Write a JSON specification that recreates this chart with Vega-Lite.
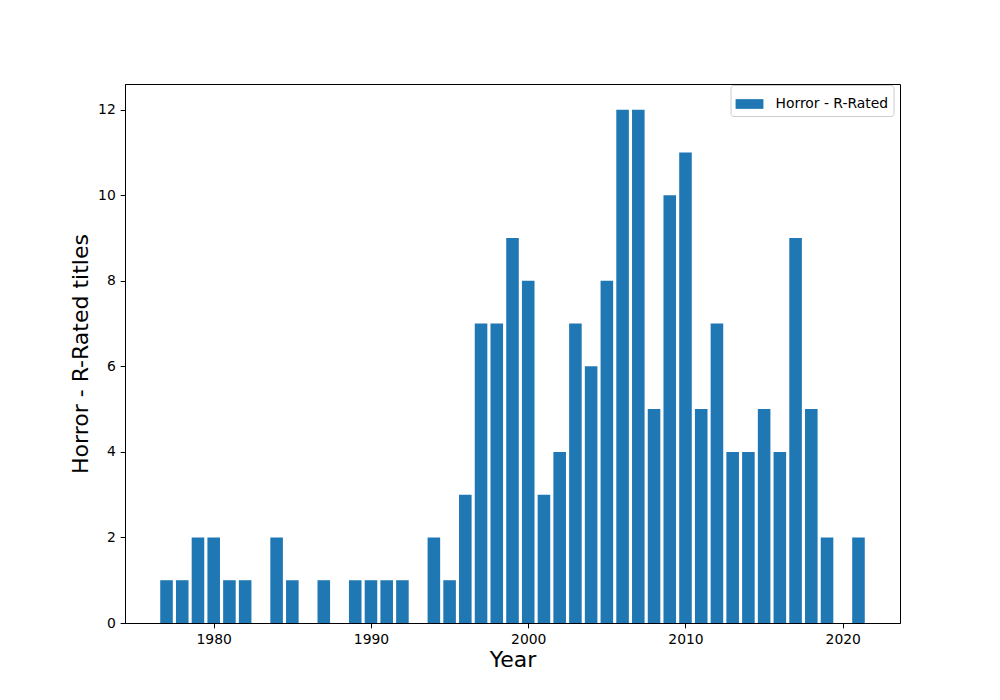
{
  "$schema": "https://vega.github.io/schema/vega-lite/v6.json",
  "autosize": {"type": "none"},
  "padding": {"left": 125, "top": 84, "right": 100, "bottom": 77},
  "width": 775,
  "height": 539,
  "background": "white",
  "config": {
    "font": "DejaVu Sans",
    "view": {"stroke": "black", "strokeWidth": 1},
    "axis": {
      "domainColor": "black",
      "tickColor": "black",
      "labelColor": "black",
      "titleColor": "black",
      "grid": false,
      "labelFont": "DejaVu Sans",
      "titleFont": "DejaVu Sans",
      "labelFontSize": 13.9,
      "titleFontSize": 22,
      "titleFontWeight": "normal",
      "tickSize": 4.86,
      "labelPadding": 4.86
    }
  },
  "data": {
    "values": [
      {"year": 1977, "count": 1, "series": "Horror - R-Rated"},
      {"year": 1978, "count": 1, "series": "Horror - R-Rated"},
      {"year": 1979, "count": 2, "series": "Horror - R-Rated"},
      {"year": 1980, "count": 2, "series": "Horror - R-Rated"},
      {"year": 1981, "count": 1, "series": "Horror - R-Rated"},
      {"year": 1982, "count": 1, "series": "Horror - R-Rated"},
      {"year": 1984, "count": 2, "series": "Horror - R-Rated"},
      {"year": 1985, "count": 1, "series": "Horror - R-Rated"},
      {"year": 1987, "count": 1, "series": "Horror - R-Rated"},
      {"year": 1989, "count": 1, "series": "Horror - R-Rated"},
      {"year": 1990, "count": 1, "series": "Horror - R-Rated"},
      {"year": 1991, "count": 1, "series": "Horror - R-Rated"},
      {"year": 1992, "count": 1, "series": "Horror - R-Rated"},
      {"year": 1994, "count": 2, "series": "Horror - R-Rated"},
      {"year": 1995, "count": 1, "series": "Horror - R-Rated"},
      {"year": 1996, "count": 3, "series": "Horror - R-Rated"},
      {"year": 1997, "count": 7, "series": "Horror - R-Rated"},
      {"year": 1998, "count": 7, "series": "Horror - R-Rated"},
      {"year": 1999, "count": 9, "series": "Horror - R-Rated"},
      {"year": 2000, "count": 8, "series": "Horror - R-Rated"},
      {"year": 2001, "count": 3, "series": "Horror - R-Rated"},
      {"year": 2002, "count": 4, "series": "Horror - R-Rated"},
      {"year": 2003, "count": 7, "series": "Horror - R-Rated"},
      {"year": 2004, "count": 6, "series": "Horror - R-Rated"},
      {"year": 2005, "count": 8, "series": "Horror - R-Rated"},
      {"year": 2006, "count": 12, "series": "Horror - R-Rated"},
      {"year": 2007, "count": 12, "series": "Horror - R-Rated"},
      {"year": 2008, "count": 5, "series": "Horror - R-Rated"},
      {"year": 2009, "count": 10, "series": "Horror - R-Rated"},
      {"year": 2010, "count": 11, "series": "Horror - R-Rated"},
      {"year": 2011, "count": 5, "series": "Horror - R-Rated"},
      {"year": 2012, "count": 7, "series": "Horror - R-Rated"},
      {"year": 2013, "count": 4, "series": "Horror - R-Rated"},
      {"year": 2014, "count": 4, "series": "Horror - R-Rated"},
      {"year": 2015, "count": 5, "series": "Horror - R-Rated"},
      {"year": 2016, "count": 4, "series": "Horror - R-Rated"},
      {"year": 2017, "count": 9, "series": "Horror - R-Rated"},
      {"year": 2018, "count": 5, "series": "Horror - R-Rated"},
      {"year": 2019, "count": 2, "series": "Horror - R-Rated"},
      {"year": 2021, "count": 2, "series": "Horror - R-Rated"}
    ]
  },
  "mark": {"type": "bar", "size": 12.57, "orient": "vertical"},
  "encoding": {
    "x": {
      "field": "year",
      "type": "quantitative",
      "scale": {"domain": [1974.36, 2023.64], "nice": false, "zero": false, "padding": 0},
      "axis": {
        "title": "Year",
        "values": [1980, 1990, 2000, 2010, 2020],
        "format": "d",
        "titlePadding": 3
      }
    },
    "y": {
      "field": "count",
      "type": "quantitative",
      "scale": {"domain": [0, 12.6], "nice": false, "padding": 0},
      "axis": {
        "title": "Horror - R-Rated titles",
        "values": [0, 2, 4, 6, 8, 10, 12],
        "titlePadding": 5
      }
    },
    "color": {
      "field": "series",
      "type": "nominal",
      "scale": {"range": ["#1f77b4"]},
      "legend": {
        "title": null,
        "orient": "none",
        "legendX": 605.5,
        "legendY": 1,
        "symbolType": "M-1,-0.35L1,-0.35L1,0.35L-1,0.35Z",
        "symbolSize": 773,
        "symbolStrokeWidth": 0,
        "labelFontSize": 13.9,
        "labelFont": "DejaVu Sans",
        "labelColor": "black",
        "labelOffset": 12,
        "strokeColor": "#cccccc",
        "fillColor": "white",
        "cornerRadius": 3,
        "padding": 5
      }
    }
  }
}
